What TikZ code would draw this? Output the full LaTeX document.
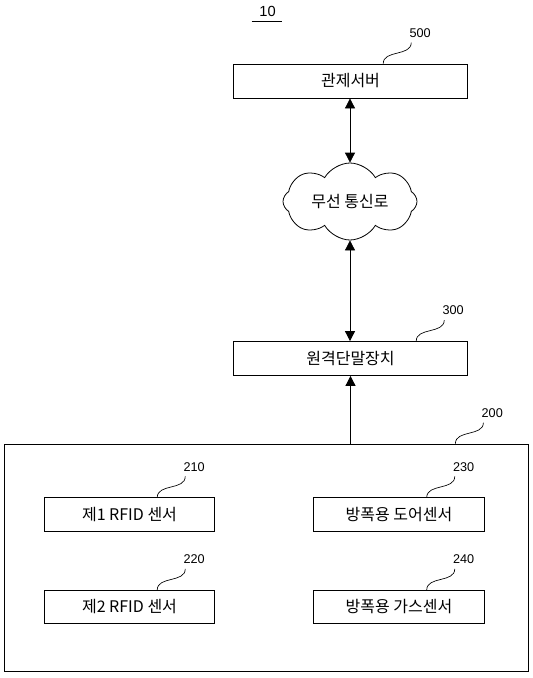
\documentclass[tikz,border=0pt]{standalone}
\usepackage{fontspec}
\setmainfont{Liberation Sans}
\newfontfamily\krfont{Noto Sans CJK KR}
\usepackage{tikz}
\usetikzlibrary{positioning,shapes.symbols,arrows.meta,calc}

% leader line from a box to its reference number
\newcommand{\refnum}[3]{%
  \coordinate (#2e) at ($(#1)+(28,-21)$);
  \node[num,anchor=south west] (#2) at ($(#2e)+(-2,-5)$) {#3};
  \draw[lead] (#1) .. controls +(0,-14) and +(0,14) .. (#2e);
}

\begin{document}
\begin{tikzpicture}[x=0.75pt,y=-0.75pt,
    box/.style={draw,line width=0.6pt,inner sep=0pt,font=\krfont\fontsize{12}{14}\selectfont},
    unit/.style={box,minimum width=176pt,minimum height=25.5pt},
    sens/.style={box,minimum width=128pt,minimum height=25pt},
    num/.style={inner sep=0pt,font=\fontsize{9.5}{11}\selectfont},
    lead/.style={line width=0.5pt},
    arr/.style={line width=0.6pt,-{Triangle[length=7.5pt,width=7.5pt]}},
    dblarr/.style={line width=0.6pt,{Triangle[length=7.5pt,width=7.5pt]}-{Triangle[length=7.5pt,width=7.5pt]}}]
  \useasboundingbox (0,0) rectangle (532,678);
  % Title
  \node[inner sep=1pt,font=\fontsize{11}{13}\selectfont] (ttl) at (267.5,11.5) {10};
  \draw[line width=0.6pt] ($(ttl.south west)+(-6,3)$) -- ($(ttl.south east)+(5,3)$);
  % Server, network, terminal
  \node[unit] (srv) at (350.5,81) {관제서버};
  \node[cloud,draw,line width=0.6pt,cloud puffs=8,cloud puff arc=120,cloud ignores aspect,
        minimum width=100.5pt,minimum height=57.75pt,inner sep=0pt,
        font=\krfont\fontsize{12}{14}\selectfont] (net) at (350,201.5) {무선 통신로};
  \node[unit] (term) at (350.5,358.5) {원격단말장치};
  % Sensor unit
  \node[draw,line width=0.6pt,minimum width=393pt,minimum height=170.25pt,inner sep=0pt] (sys) at (266,557.5) {};
  \node[sens] (rfa) at (129.5,514.5) {제1 RFID 센서};
  \node[sens] (rfb) at (129.5,607) {제2 RFID 센서};
  \node[sens] (door) at (399,514.5) {방폭용 도어센서};
  \node[sens] (gas) at (399,607) {방폭용 가스센서};
  % Connectors
  \draw[dblarr] (srv.south -| net.north) -- (net.north);
  \draw[dblarr] (net.south) -- (net.south |- term.north);
  \draw[arr] (term.south |- sys.north) -- (term.south);
  % Reference numbers
  \refnum{$(srv.north east)+(-85,0)$}{n500}{500}
  \refnum{$(term.north east)+(-52,0)$}{n300}{300}
  \refnum{$(sys.north east)+(-73,0)$}{n200}{200}
  \refnum{$(rfa.north east)+(-58,0)$}{n210}{210}
  \refnum{$(rfb.north east)+(-58,0)$}{n220}{220}
  \refnum{$(door.north east)+(-58,0)$}{n230}{230}
  \refnum{$(gas.north east)+(-58,0)$}{n240}{240}
\end{tikzpicture}
\end{document}
